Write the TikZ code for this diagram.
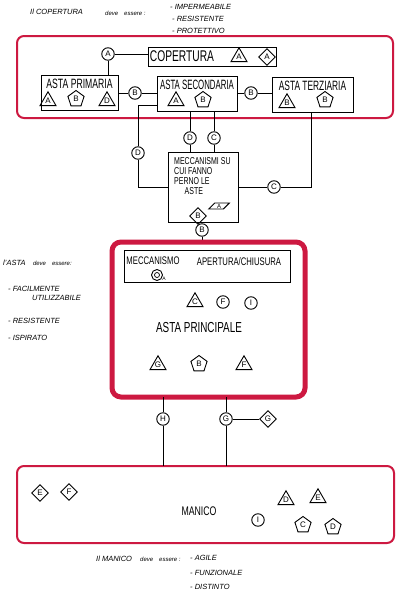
\documentclass[tikz,border=0pt]{standalone}
\usepackage{fontspec}
\setmainfont{Liberation Sans}
\usetikzlibrary{shapes.geometric}
\definecolor{redA}{RGB}{205,25,65}
\newcommand{\hcond}[2][0.66]{\scalebox{#1}[1]{#2}}
\tikzset{
  ln/.style={line width=0.9pt},
  lab/.style={inner sep=0pt,font=\fontsize{13.5}{13.5}\selectfont},
  notes/.style={inner sep=0pt,anchor=west,font=\itshape\fontsize{7.5}{8}\selectfont},
  sym/.style={draw,line width=0.9pt,inner sep=0pt,font=\fontsize{8}{8}\selectfont},
  cir/.style={sym,circle,minimum size=12.5pt},
  tri/.style={sym,regular polygon,regular polygon sides=3,minimum size=18.5pt},
  pent/.style={sym,regular polygon,regular polygon sides=5,minimum size=17pt},
  dia/.style={sym,diamond,minimum size=17pt},
  boxx/.style={draw,line width=0.9pt,inner sep=0pt},
  redframe/.style={draw=redA,line width=2pt,rounded corners=7pt,inner sep=0pt},
  redthick/.style={draw=redA,line width=5pt,rounded corners=9pt,inner sep=0pt}
}
\begin{document}
\begin{tikzpicture}[x=1pt,y=-1pt]
\useasboundingbox (0,0) rectangle (400,597);
\fill[white] (0,0) rectangle (400,597);

% ---------- notes top
\node[notes] (n1) at (30,12) {Il COPERTURA};
\node[notes,font=\itshape\fontsize{6}{6}\selectfont] (n2) at (105,13) {deve\quad essere :};
\node[notes] (n3) at (170,7) {- IMPERMEABILE};
\node[notes] (n4) at (172,19) {- RESISTENTE};
\node[notes] (n5) at (172,31) {- PROTETTIVO};

% ---------- top frame
\node[redframe,minimum width=376,minimum height=82] (topf) at (205,77) {};
\node[boxx,minimum width=128,minimum height=19] (cop) at (212,56.5) {};
\node[lab,font=\fontsize{15.5}{15.5}\selectfont] (copt) at (182,56.5) {\hcond{COPERTURA}};
\node[tri] (copA1) at (239,57) {A};
\node[dia] (copA2) at (267,57) {A};
\node[cir] (cA) at (108,54) {A};

\node[boxx,minimum width=77,minimum height=35] (prim) at (79.5,92.5) {};
\node[lab] (primt) at (79.5,84) {\hcond[0.64]{ASTA PRIMARIA}};
\node[tri] (p1) at (48,101) {A};
\node[pent] (p2) at (76,99) {B};
\node[tri] (p3) at (107,101) {D};

\node[boxx,minimum width=80,minimum height=35] (sec) at (197,93.5) {};
\node[lab] (sect) at (197,85) {\hcond[0.58]{ASTA SECONDARIA}};
\node[tri] (s1) at (176,101) {A};
\node[pent] (s2) at (203,100) {B};

\node[boxx,minimum width=81,minimum height=35] (ter) at (312.5,94.5) {};
\node[lab] (tert) at (312.5,86) {\hcond[0.62]{ASTA TERZIARIA}};
\node[tri] (t1) at (287,103) {B};
\node[pent] (t2) at (325,100) {B};

\node[cir] (cB1) at (135,93) {B};
\node[cir] (cB2) at (251,93) {B};

\draw[ln] (cA) -- (cop.west |- cA);
\draw[ln] (cA) -- (cA |- prim.north);
\draw[ln] (prim.east |- cB1) -- (cB1) -- (sec.west |- cB1);
\draw[ln] (sec.east |- cB2) -- (cB2) -- (ter.west |- cB2);

% ---------- meccanismi
\node[boxx,minimum width=70,minimum height=70] (mec) at (203,187) {};
\node[inner sep=0pt,anchor=north west,font=\fontsize{10}{11.5}\selectfont] (mect) at (174,157)
  {\hcond[0.7]{\shortstack[l]{MECCANISMI SU\\CUI FANNO\\PERNO LE\\\hspace*{15pt}ASTE}}};
\node[dia] (mB) at (198,216) {B};
\node[sym,trapezium,trapezium left angle=45,trapezium right angle=135,minimum height=6pt,minimum width=20pt,inner xsep=1pt,font=\fontsize{6}{6}\selectfont] (mA) at (219,206) {A};

\coordinate (secL) at (157,105);
\coordinate (Lcorner) at (138,105);
\coordinate (Lbot) at (138,187);
\node[cir] (cD1) at (138,153) {D};
\draw[ln] (secL) -- (Lcorner) -- (cD1) -- (Lbot) -- (mec.west |- Lbot);

\node[cir] (cD2) at (190,138) {D};
\node[cir] (cC1) at (214,138) {C};
\draw[ln] (190,111) -- (cD2) -- (190,152);
\draw[ln] (214,111) -- (cC1) -- (214,152);

\coordinate (Rcorner) at (311,187);
\node[cir] (cC2) at (274,187) {C};
\draw[ln] (mec.east |- cC2) -- (cC2) -- (Rcorner) -- (Rcorner |- ter.south);

\node[cir] (cB3) at (202,230) {B};
\draw[ln] (202,222) -- (cB3) -- (202,242);

% ---------- asta principale
\node[redthick,minimum width=193,minimum height=155] (ap) at (208.5,319.5) {};
\node[boxx,minimum width=166,minimum height=32] (mac) at (207,266) {};
\node[lab,font=\fontsize{11}{11}\selectfont] (mac1) at (153,261) {\hcond[0.7]{MECCANISMO}};
\node[lab,font=\fontsize{11}{11}\selectfont] (mac2) at (239,262) {\hcond[0.7]{APERTURA/CHIUSURA}};
\node[circle,draw,line width=0.9pt,minimum size=11pt,inner sep=0pt] (spir) at (157,275) {};
\node[circle,draw,line width=0.7pt,minimum size=5pt,inner sep=0pt] (spir2) at (157,275) {};
\node[inner sep=0pt,font=\fontsize{5}{5}\selectfont] (spirA) at (164,279) {A};

\node[tri] (apC) at (195,302) {C};
\node[cir] (apF) at (223,302) {F};
\node[cir] (apI) at (251,303) {I};
\node[lab,font=\fontsize{14.5}{14.5}\selectfont] (apt) at (199,328) {\hcond[0.68]{ASTA PRINCIPALE}};
\node[tri] (apG) at (158,365) {G};
\node[pent] (apB) at (199,364) {B};
\node[tri] (apF2) at (244,365) {F};

% left notes
\node[notes] (l1) at (3,263) {l'ASTA\quad{\fontsize{6}{6}\selectfont deve\quad essere:}};
\node[notes] (l2) at (8,289) {- FACILMENTE};
\node[notes] (l3) at (32,298) {UTILIZZABILE};
\node[notes] (l4) at (8,321) {- RESISTENTE};
\node[notes] (l5) at (8,338) {- ISPIRATO};

% ---------- manico
\node[redframe,minimum width=377,minimum height=77] (man) at (205.5,504.5) {};
\node[cir] (cH) at (163,419) {H};
\node[cir] (cG) at (226,419) {G};
\node[dia] (dG) at (268,419) {G};
\draw[ln] (163,397) -- (cH) -- (163,466);
\draw[ln] (226,397) -- (cG) -- (226,466);
\draw[ln] (cG) -- (dG);

\node[dia] (mE) at (40,493) {E};
\node[dia] (mF) at (69,492) {F};
\node[lab,font=\fontsize{12.5}{12.5}\selectfont] (mant) at (199,511) {\hcond[0.7]{MANICO}};
\node[cir] (mI) at (258,520) {I};
\node[tri] (mD) at (286,500) {D};
\node[tri] (mE2) at (318,498) {E};
\node[pent] (mC) at (303,525) {C};
\node[pent] (mD2) at (333,527) {D};

% bottom notes
\node[notes] (b1) at (96,559) {Il MANICO};
\node[notes,font=\itshape\fontsize{6}{6}\selectfont] (b2) at (140,559) {deve\quad essere :};
\node[notes] (b3) at (190,558) {- AGILE};
\node[notes] (b4) at (190,573) {- FUNZIONALE};
\node[notes] (b5) at (190,587) {- DISTINTO};
\end{tikzpicture}
\end{document}
